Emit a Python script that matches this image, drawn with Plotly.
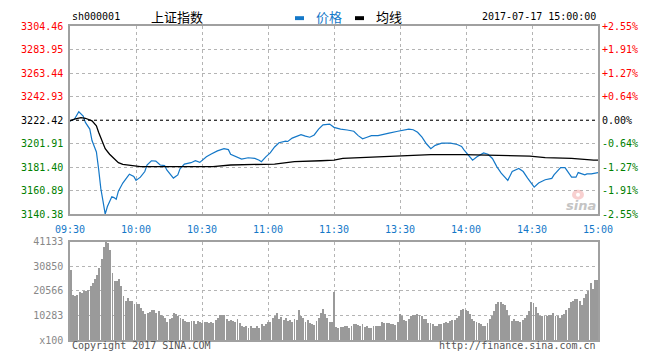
import plotly.graph_objects as go

# ---------------- data ----------------
prev_close = 3222.42
time_labels = ["09:30", "10:00", "10:30", "11:00", "11:30", "13:30", "14:00", "14:30", "15:00"]
time_ticks = [0, 30, 60, 90, 120, 150, 180, 210, 240]

price_ticks = [3304.46, 3283.95, 3263.44, 3242.93, 3222.42, 3201.91, 3181.40, 3160.89, 3140.38]
pct_labels = ["+2.55%", "+1.91%", "+1.27%", "+0.64%", "0.00%", "-0.64%", "-1.27%", "-1.91%", "-2.55%"]

price_minute = [0, 2, 4, 6, 7, 9, 10, 12, 13, 14, 15, 16, 17, 19, 20, 21, 22, 24, 26, 27, 29, 30,
                32, 34, 35, 37, 39, 41, 43, 44, 47, 49, 50, 52, 55, 57, 59, 60, 62, 64, 67, 70, 72,
                73, 75, 78, 81, 84, 86, 87, 89, 91, 93, 95, 98, 99, 101, 103, 105, 107, 109, 111,
                113, 115, 118, 120, 123, 126, 129, 131, 133, 135, 137, 140, 143, 145, 149, 151,
                154, 156, 158, 160, 162, 164, 166, 169, 173, 176, 178, 179, 181, 183, 185, 188,
                190, 192, 194, 196, 199, 201, 204, 206, 208, 211, 213, 216, 219, 220, 223, 225,
                228, 230, 231, 234, 235, 237, 240]
price_value = [3221.8, 3223.3, 3229.8, 3226.1, 3220.5, 3214.7, 3204.7, 3194.8, 3180.0, 3163.0,
               3152.0, 3140.6, 3147.2, 3155.8, 3155.0, 3153.5, 3160.6, 3167.7, 3172.8, 3175.4,
               3173.4, 3170.0, 3172.8, 3177.7, 3183.4, 3187.1, 3186.8, 3183.4, 3182.9, 3179.1,
               3172.0, 3174.8, 3180.0, 3184.2, 3185.4, 3187.1, 3185.7, 3187.6, 3190.5, 3192.8,
               3195.7, 3197.6, 3196.8, 3192.8, 3191.1, 3188.5, 3189.7, 3189.1, 3187.6, 3186.3,
               3190.5, 3193.9, 3199.1, 3202.8, 3204.2, 3203.9, 3206.8, 3208.2, 3209.9, 3208.5,
               3207.6, 3209.6, 3214.7, 3218.4, 3219.0, 3216.2, 3214.7, 3213.9, 3212.8, 3209.0,
               3206.2, 3207.6, 3209.0, 3209.0, 3209.9, 3211.1, 3212.8, 3213.3, 3214.7, 3214.1,
               3211.9, 3207.6, 3201.9, 3197.6, 3200.5, 3202.5, 3202.5, 3201.3, 3199.6, 3196.8,
               3192.0, 3187.6, 3190.5, 3193.9, 3192.8, 3189.1, 3182.0, 3176.3, 3170.0, 3177.7,
               3180.3, 3177.7, 3172.0, 3164.1, 3167.7, 3170.6, 3171.7, 3174.8, 3181.1, 3181.1,
               3172.8, 3172.8, 3176.8, 3174.8, 3175.7, 3175.7, 3176.8]

avg_minute = [0, 2, 5, 7, 10, 12, 13, 15, 16, 18, 20, 22, 24, 27, 32, 65, 73, 93, 102, 114, 120,
              124, 134, 146, 155, 164, 179, 197, 209, 216, 228, 238, 240]
avg_value = [3221.8, 3223.3, 3224.7, 3224.1, 3221.8, 3217.6, 3212.0, 3202.0, 3197.6, 3192.8,
             3189.1, 3185.4, 3184.0, 3183.4, 3182.0, 3182.0, 3183.4, 3184.2, 3186.3, 3187.1,
             3187.6, 3189.1, 3189.9, 3191.1, 3192.0, 3192.5, 3192.5, 3192.0, 3191.1, 3189.9,
             3189.1, 3187.6, 3187.6]

vol_ticks = [0, 10283, 20566, 30850, 41133]
vol_labels = ["x100", "10283", "20566", "30850", "41133"]
volume = [
    29330, 18920, 18650, 18920, 20000, 19700, 20400, 20400, 21000, 22500,
    24100, 25500, 27500, 30200, 34000, 39100, 41133, 40800, 37800, 28300,
    24950, 24950, 25500, 22500, 18650, 16200, 17550, 16200, 16200, 15200,
    15100, 14950, 13600, 12100, 11150, 11550, 11800, 12750, 12750, 11550,
    12400, 10500, 10200, 9400, 7700, 8650, 9400, 11550, 10900, 10200,
    9100, 8650, 8100, 7700, 7400, 7950, 7950, 6600, 7950, 7400,
    7150, 7700, 7400, 7250, 7400, 7000, 8400, 9100, 10500, 10500,
    10700, 8650, 7950, 8250, 7950, 7400, 8650, 7000, 6050, 5600,
    5750, 5200, 5750, 4950, 5200, 5750, 5200, 6600, 6050, 6600,
    7400, 7700, 9100, 10200, 11550, 8650, 9500, 8400, 9100, 8100,
    8400, 7400, 8650, 8400, 12550, 10200, 9100, 7400, 8400, 7000,
    6600, 6300, 7950, 9400, 11550, 12900, 11150, 9100, 7400, 7700,
    20300,
    5620, 5210, 5350, 5620, 6030, 5760, 5210, 6030, 6580, 6580,
    6310, 6030, 6580, 5620, 6030, 5210, 5210, 6030, 5760, 6030,
    6030, 7680, 6990, 6990, 6990, 6860, 6580, 6310, 7400, 10970,
    10150, 8370, 7950, 9050, 10150, 10700, 10700, 10970, 10420, 10150,
    9050, 8780, 6990, 6990, 6580, 6030, 6030, 6580, 6580, 6990,
    7400, 6990, 7950, 8640, 8640, 9320, 10150, 12750, 13160, 12480,
    12070, 11110, 9050, 7950, 7400, 6990, 6580, 6030, 6030, 6990,
    9050, 10150, 12070, 14950, 16180, 16180, 14950, 14810, 12480, 10150,
    7950, 8780, 7950, 7950, 7400, 8370, 9320, 10700, 12200, 16040,
    15630, 13850, 11520, 10150, 10150, 10150, 10150, 10420, 10700, 11520,
    10150, 10150, 9320, 10420, 11110, 12480, 13440, 16180, 16590, 17280,
    17280, 16590, 14530, 17550, 19330, 20700, 24130, 21390, 25230, 25230,
]
vol_minute = list(range(len(volume)))

# ---------------- styling ----------------
RED = "#ff0000"
GREEN = "#008000"
BLUE = "#1478c8"
MONO = "DejaVu Sans Mono"
GRID = "#b4b4b4"
BORDER = "#a0a0a0"


def colored(txt, val):
    if abs(val - prev_close) < 1e-6:
        c = "#000000"
    elif val > prev_close:
        c = RED
    else:
        c = GREEN
    return f'<span style="color:{c}">{txt}</span>'


left_text = [colored(f"{v:.2f}", v) for v in price_ticks]
right_text = [colored(t, v) for t, v in zip(pct_labels, price_ticks)]

fig = go.Figure()
fig.add_trace(go.Scatter(x=price_minute, y=price_value, mode="lines",
                         line=dict(color=BLUE, width=1.2), xaxis="x", yaxis="y",
                         name="价格", hoverinfo="skip"))
fig.add_trace(go.Scatter(x=avg_minute, y=avg_value, mode="lines",
                         line=dict(color="#000000", width=1.3), xaxis="x", yaxis="y2",
                         name="均线", hoverinfo="skip"))
fig.add_trace(go.Bar(x=vol_minute, y=volume, width=0.42,
                     marker=dict(color="#9a9a9a", line=dict(width=0)),
                     xaxis="x2", yaxis="y3", hoverinfo="skip"))

P_RANGE = [price_ticks[-1], price_ticks[0]]

# the page body adds an 8px offset; figure is sized so the plot area lands at
# x 70..598, y 20..340 of the browser window
fig.update_layout(
    width=652, height=352,
    margin=dict(l=62, r=62, t=12, b=20),
    paper_bgcolor="white", plot_bgcolor="white",
    showlegend=False,
    bargap=0,
    xaxis=dict(domain=[0, 1], range=[0, 240], anchor="y",
               tickmode="array", tickvals=time_ticks, ticktext=time_labels,
               tickfont=dict(family=MONO, size=10, color=BLUE), ticklabelstandoff=5,
               showgrid=True, gridcolor=GRID, griddash="dot", gridwidth=1,
               showline=True, linecolor=BORDER, linewidth=1.5, mirror=True,
               zeroline=False, ticks=""),
    yaxis=dict(domain=[0.4, 1], range=P_RANGE, anchor="x",
               tickmode="array", tickvals=price_ticks, ticktext=left_text,
               tickfont=dict(family=MONO, size=10), ticklabelstandoff=3,
               showgrid=True, gridcolor=GRID, griddash="dot", gridwidth=1,
               showline=True, linecolor=BORDER, linewidth=1.5, mirror=True,
               zeroline=False, ticks=""),
    yaxis2=dict(overlaying="y", side="right", range=P_RANGE, anchor="x",
                tickmode="array", tickvals=price_ticks, ticktext=right_text,
                tickfont=dict(family=MONO, size=10), ticklabelstandoff=3,
                showgrid=False, zeroline=False, ticks="", showline=False),
    xaxis2=dict(domain=[0, 1], range=[-0.4, 240.4], anchor="y3",
                tickmode="array", tickvals=time_ticks, showticklabels=False,
                showgrid=True, gridcolor=GRID, griddash="dot", gridwidth=1,
                showline=True, linecolor=BORDER, linewidth=1.5, mirror=True,
                zeroline=False, ticks=""),
    yaxis3=dict(domain=[0, 0.3125], range=[0, 41133], anchor="x2",
                tickmode="array", tickvals=vol_ticks, ticktext=vol_labels,
                tickfont=dict(family=MONO, size=10, color="#888888"), ticklabelstandoff=3,
                showgrid=True, gridcolor=GRID, griddash="dot", gridwidth=1,
                showline=True, linecolor=BORDER, linewidth=1.5, mirror=True,
                zeroline=False, ticks=""),
)

# previous close reference line
fig.add_shape(type="line", xref="x", yref="y", x0=0, x1=240, y0=prev_close, y1=prev_close,
              line=dict(color="#000000", width=1, dash="dot"))


def px(x):
    return (x - 70) / 528.0


def py(y):
    return (340 - y) / 320.0


HY = 10  # header text centre (window px)

# header
fig.add_annotation(xref="paper", yref="paper", x=px(70), y=py(HY), xanchor="left", yanchor="middle",
                   text="sh000001", showarrow=False, font=dict(family=MONO, size=10, color="#000"))
fig.add_annotation(xref="paper", yref="paper", x=px(149), y=py(HY), xanchor="left", yanchor="middle",
                   text="上证指数", showarrow=False,
                   font=dict(family="Noto Sans CJK SC", size=13, color="#000"))
fig.add_shape(type="rect", xref="paper", yref="paper", x0=px(295), x1=px(304), y0=py(14), y1=py(10),
              fillcolor=BLUE, line=dict(width=0))
fig.add_annotation(xref="paper", yref="paper", x=px(314), y=py(HY), xanchor="left", yanchor="middle",
                   text="价格", showarrow=False,
                   font=dict(family="Noto Sans CJK SC", size=13, color=BLUE))
fig.add_shape(type="rect", xref="paper", yref="paper", x0=px(355), x1=px(364), y0=py(14), y1=py(10),
              fillcolor="#000", line=dict(width=0))
fig.add_annotation(xref="paper", yref="paper", x=px(374), y=py(HY), xanchor="left", yanchor="middle",
                   text="均线", showarrow=False,
                   font=dict(family="Noto Sans CJK SC", size=13, color="#000"))
fig.add_annotation(xref="paper", yref="paper", x=px(598), y=py(HY), xanchor="right", yanchor="middle",
                   text="2017-07-17 15:00:00", showarrow=False,
                   font=dict(family=MONO, size=10, color="#000"))

# footer
fig.add_annotation(xref="paper", yref="paper", x=px(70), y=py(346), xanchor="left", yanchor="middle",
                   text="Copyright 2017 SINA.COM", showarrow=False,
                   font=dict(family=MONO, size=10, color="#555"))
fig.add_annotation(xref="paper", yref="paper", x=px(598), y=py(346), xanchor="right", yanchor="middle",
                   text="http://finance.sina.com.cn", showarrow=False,
                   font=dict(family=MONO, size=10, color="#555"))

# sina watermark (eye logo as shapes, word as text)
fig.add_shape(type="circle", xref="paper", yref="paper", x0=px(572), x1=px(584), y0=py(197), y1=py(187),
              fillcolor="rgba(240,150,150,0.45)", line=dict(width=0))
fig.add_shape(type="circle", xref="paper", yref="paper", x0=px(576), x1=px(580), y0=py(194), y1=py(190),
              fillcolor="white", line=dict(width=0))
fig.add_annotation(xref="paper", yref="paper", x=px(581), y=py(203), xanchor="center", yanchor="middle",
                   text="<b><i>sina</i></b>", showarrow=False,
                   font=dict(family="DejaVu Sans", size=13, color="#c4c4c4"))

fig.write_html("out.html")
